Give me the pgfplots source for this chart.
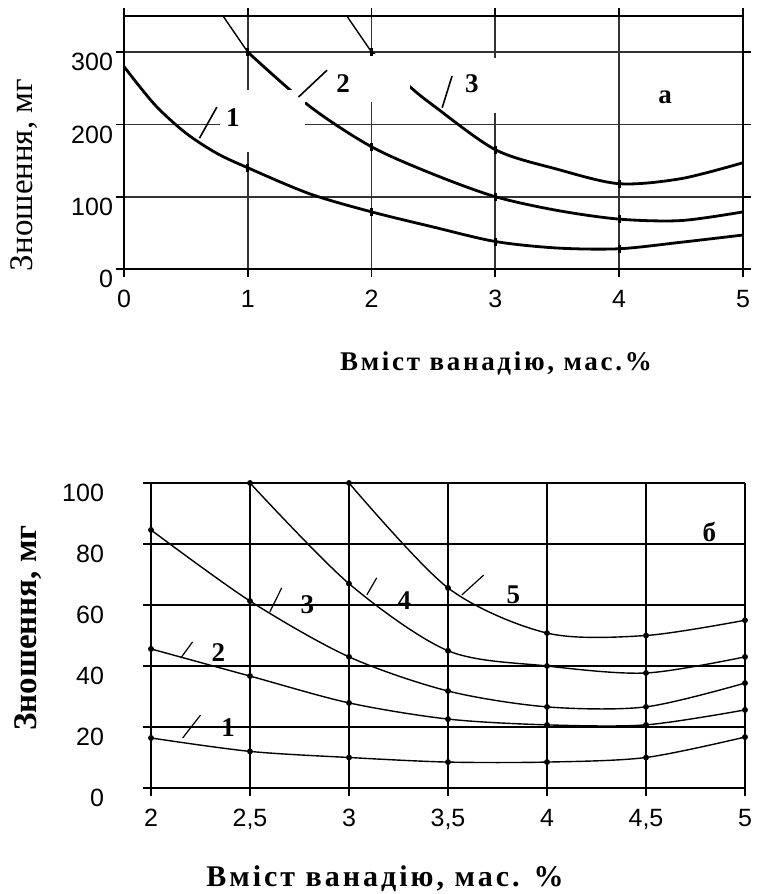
\documentclass[border=0pt]{standalone}
\usepackage{fontspec}
\setmainfont{Liberation Serif}
\newfontfamily\tickfont{Liberation Sans}
\usepackage{pgfplots}
\pgfplotsset{compat=1.18}

% 1 px of the reference = 0.5pt
\pgfplotsset{
  panel/.style={
    scale only axis,
    tick align=outside,
    major tick length=4pt,
    grid=major,
    /pgf/number format/assume math mode=true,
    tick label style={font=\tickfont\fontsize{12.5}{13}\selectfont},
    xticklabel style={yshift=-3pt},
    yticklabel style={yshift=-5pt},
  },
}
\tikzset{lbl/.style={font=\bfseries\fontsize{13.5}{14}\selectfont, inner sep=0pt}}

\begin{document}
\begin{tikzpicture}
\useasboundingbox (0,0) rectangle (382.5pt,447pt);

% ---- panel a ----
\begin{axis}[panel,
  at={(62pt,312.5pt)}, anchor=south west,
  width=309.5pt, height=126.5pt,
  xmin=0, xmax=5, ymin=0, ymax=350,
  xtick={0,1,2,3,4,5},
  ytick={0,100,200,300},
  yticklabel style={xshift=2pt},
  axis line style={line width=1.3pt},
  tick style={line width=0.9pt, black},
  grid style={line width=0.9pt, black!80},
]
\addplot[line width=1.4pt, smooth, mark=|, mark size=2pt, mark indices={1,5,7,9,11,13}]
  coordinates {(0,280) (0.25,227) (0.5,188) (0.75,160) (1,140) (1.5,104) (2,79)
               (2.5,58) (3,38) (3.5,29) (4,28) (4.5,37) (5,47)};
% curve 2: thin upper end, thick body
\addplot[line width=0.7pt] coordinates {(0.8,350) (1,300)};
\addplot[line width=1.4pt, smooth, mark=|, mark size=2pt, mark indices={1,3,5,7,9}]
  coordinates {(1,300) (1.5,225) (2,169) (2.5,131) (3,100)
               (3.5,81) (4,69) (4.5,67) (5,79)};
% curve 3: thin upper end, thick body
\addplot[line width=0.7pt] coordinates {(1.8,350) (2,300)};
\addplot[line width=1.4pt, smooth, mark=|, mark size=2pt, mark indices={1,4,6,8}]
  coordinates {(2,300) (2.31,252) (2.5,226) (3,165)
               (3.5,138) (4,118) (4.5,125) (5,147)};
% white text frames of the original
\fill[white] (axis cs:0.775,162) rectangle (axis cs:1.46,248);
\fill[white] (axis cs:1.46,231) rectangle (axis cs:2.31,297);
\fill[white] (axis cs:2.68,216) rectangle (axis cs:3.28,292);
\draw[line width=0.8pt] (axis cs:0.61,181) -- (axis cs:0.75,224);
\draw[line width=0.8pt] (axis cs:1.41,238) -- (axis cs:1.64,275);
\draw[line width=0.8pt] (axis cs:2.57,223) -- (axis cs:2.65,267);
\node[lbl] at (axis cs:0.88,210) {1};
\node[lbl] at (axis cs:1.77,257) {2};
\node[lbl] at (axis cs:2.81,257) {3};
\node[lbl] at (axis cs:4.37,238) {а};
\end{axis}

% ---- panel b ----
\begin{axis}[panel,
  at={(75.5pt,53pt)}, anchor=south west,
  width=297pt, height=152.5pt,
  xmin=2, xmax=5, ymin=0, ymax=100,
  xtick={2,2.5,3,3.5,4,4.5,5},
  xticklabels={2,{2,5},3,{3,5},4,{4,5},5},
  ytick={0,20,40,60,80,100},
  yticklabel style={xshift=-16pt},
  axis x line*=bottom, axis y line*=left,
  axis line style={line width=1.1pt, -},
  tick style={line width=0.8pt, black},
  grid style={line width=0.8pt, black},
]
\draw[line width=1.1pt, densely dotted] (rel axis cs:0,1) -- (rel axis cs:1,1) -- (rel axis cs:1,0);
\draw[line width=1.1pt, densely dotted] (rel axis cs:0,0) -- (rel axis cs:1,0);
\addplot[line width=0.7pt, smooth, tension=0.5, mark=*, mark size=1.1pt]
  coordinates {(2,16.4) (2.5,12) (3,10) (3.5,8.5) (4,8.5) (4.5,10) (5,16.7)};
\addplot[line width=0.7pt, smooth, tension=0.5, mark=*, mark size=1.1pt]
  coordinates {(2,45.6) (2.5,36.7) (3,27.9) (3.5,22.6) (4,20.7) (4.5,20.7) (5,25.6)};
\addplot[line width=0.7pt, smooth, tension=0.5, mark=*, mark size=1.1pt]
  coordinates {(2,84.6) (2.5,61.3) (3,43) (3.5,31.8) (4,26.6) (4.5,26.6) (5,34.4)};
\addplot[line width=0.7pt, smooth, tension=0.5, mark=*, mark size=1.1pt]
  coordinates {(2.5,100) (3,67) (3.5,45) (4,40) (4.5,37.7) (5,43)};
\addplot[line width=0.7pt, smooth, tension=0.5, mark=*, mark size=1.1pt]
  coordinates {(3,100) (3.5,65.6) (4,50.8) (4.5,50) (5,55)};
\draw[line width=0.6pt] (axis cs:2.16,16.4) -- (axis cs:2.25,23.9);
\draw[line width=0.6pt] (axis cs:2.15,42.6) -- (axis cs:2.21,47.9);
\draw[line width=0.6pt] (axis cs:2.60,57.7) -- (axis cs:2.66,65.6);
\draw[line width=0.6pt] (axis cs:3.09,63.3) -- (axis cs:3.14,68.9);
\draw[line width=0.6pt] (axis cs:3.57,63.3) -- (axis cs:3.68,69.8);
\node[lbl] at (axis cs:2.39,19.7) {1};
\node[lbl] at (axis cs:2.34,44.3) {2};
\node[lbl] at (axis cs:2.79,60) {3};
\node[lbl] at (axis cs:3.28,61.6) {4};
\node[lbl] at (axis cs:3.83,63.3) {5};
\node[lbl] at (axis cs:4.82,84) {б};
\end{axis}

% axis titles
\node[rotate=90, font=\fontsize{16.5}{17}\selectfont] at (12pt,359.5pt) {Зношення, мг};
\node[font=\bfseries\fontsize{13.5}{14}\selectfont\addfontfeature{LetterSpace=10}] at (248pt,265.5pt) {Вміст ванадію, мас.\%};
\node[rotate=90, font=\bfseries\fontsize{16.5}{17}\selectfont] at (14pt,133pt) {Зношення, мг};
\node[font=\bfseries\fontsize{15}{16}\selectfont\addfontfeature{LetterSpace=10}] at (192.5pt,7.5pt) {Вміст ванадію, мас. \%};
\end{tikzpicture}
\end{document}
